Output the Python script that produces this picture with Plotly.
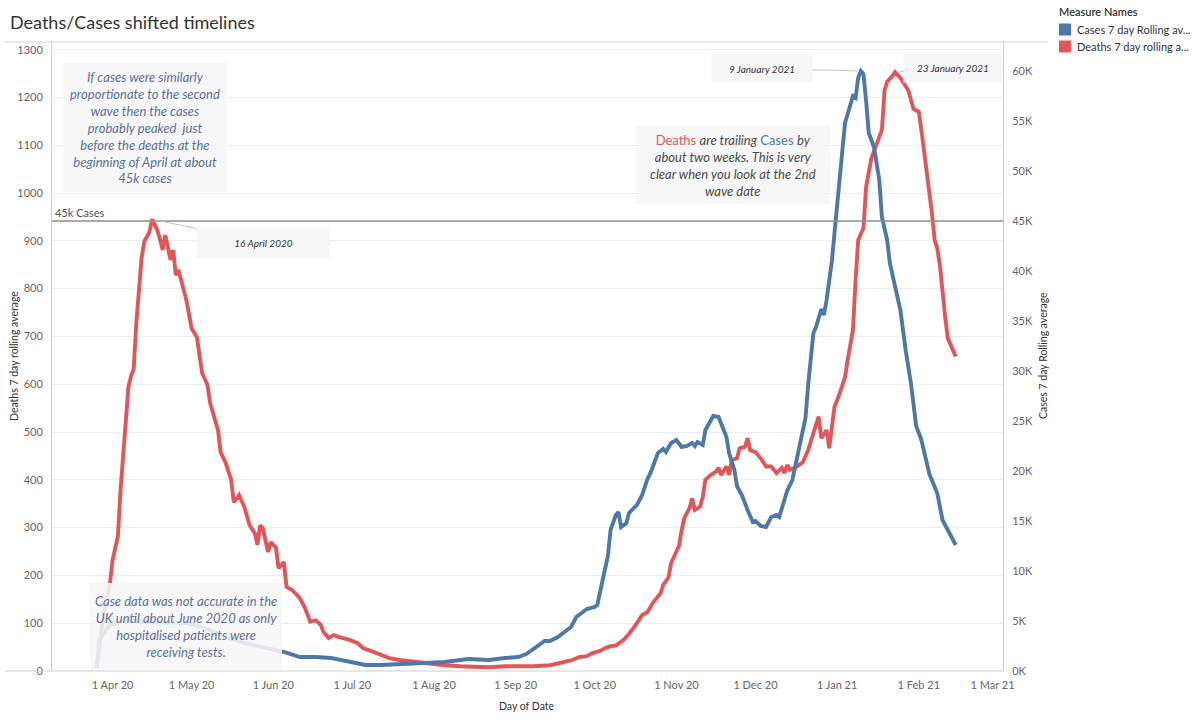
import plotly.graph_objects as go

# ---------------- data ----------------
death_dates = [
    "2020-03-26", "2020-03-28", "2020-03-31", "2020-04-01", "2020-04-02", "2020-04-03",
    "2020-04-04", "2020-04-05", "2020-04-06", "2020-04-07", "2020-04-08", "2020-04-09",
    "2020-04-10", "2020-04-11", "2020-04-12", "2020-04-13", "2020-04-14", "2020-04-15",
    "2020-04-16", "2020-04-17", "2020-04-18", "2020-04-19", "2020-04-20", "2020-04-21",
    "2020-04-22", "2020-04-23", "2020-04-24", "2020-04-25", "2020-04-26", "2020-04-28",
    "2020-04-29", "2020-05-01", "2020-05-03", "2020-05-05", "2020-05-07", "2020-05-08",
    "2020-05-11", "2020-05-12", "2020-05-14", "2020-05-16", "2020-05-17", "2020-05-19",
    "2020-05-21", "2020-05-23", "2020-05-25", "2020-05-26", "2020-05-27", "2020-05-28",
    "2020-05-30", "2020-05-31", "2020-06-02", "2020-06-03", "2020-06-05", "2020-06-06",
    "2020-06-08", "2020-06-11", "2020-06-13", "2020-06-15", "2020-06-17", "2020-06-19",
    "2020-06-20", "2020-06-22", "2020-06-24", "2020-06-26", "2020-06-30", "2020-07-03",
    "2020-07-05", "2020-07-09", "2020-07-12", "2020-07-15", "2020-07-19", "2020-07-25",
    "2020-07-30", "2020-08-05", "2020-08-11", "2020-08-22", "2020-08-28", "2020-09-03",
    "2020-09-08", "2020-09-14", "2020-09-18", "2020-09-22", "2020-09-25", "2020-09-28",
    "2020-09-30", "2020-10-03", "2020-10-05", "2020-10-07", "2020-10-09", "2020-10-12",
    "2020-10-14", "2020-10-16", "2020-10-19", "2020-10-21", "2020-10-23", "2020-10-26",
    "2020-10-27", "2020-10-29", "2020-10-30", "2020-11-01", "2020-11-02", "2020-11-03",
    "2020-11-04", "2020-11-06", "2020-11-07", "2020-11-08", "2020-11-10", "2020-11-11",
    "2020-11-12", "2020-11-14", "2020-11-16", "2020-11-17", "2020-11-18", "2020-11-20",
    "2020-11-21", "2020-11-22", "2020-11-24", "2020-11-25", "2020-11-27", "2020-11-28",
    "2020-11-29", "2020-12-01", "2020-12-03", "2020-12-05", "2020-12-07", "2020-12-09",
    "2020-12-11", "2020-12-12", "2020-12-13", "2020-12-14", "2020-12-16", "2020-12-19",
    "2020-12-21", "2020-12-23", "2020-12-25", "2020-12-26", "2020-12-28", "2020-12-29",
    "2020-12-31", "2021-01-02", "2021-01-04", "2021-01-05", "2021-01-06", "2021-01-07",
    "2021-01-08", "2021-01-09", "2021-01-11", "2021-01-12", "2021-01-14", "2021-01-16",
    "2021-01-18", "2021-01-19", "2021-01-20", "2021-01-22", "2021-01-23", "2021-01-25",
    "2021-01-26", "2021-01-28", "2021-01-30", "2021-02-01", "2021-02-02", "2021-02-04",
    "2021-02-06", "2021-02-07", "2021-02-08", "2021-02-09", "2021-02-10", "2021-02-11",
    "2021-02-12", "2021-02-14", "2021-02-15",
]
deaths = [
    6, 96, 184, 232, 257, 281,
    378, 450, 531, 594, 617, 632,
    728, 811, 864, 898, 909, 919,
    945, 933, 922, 903, 881, 912,
    884, 860, 881, 828, 839, 797,
    776, 717, 698, 623, 599, 561,
    504, 458, 434, 400, 353, 368,
    343, 305, 288, 264, 305, 299,
    249, 270, 258, 215, 228, 176,
    170, 153, 132, 103, 106, 97,
    82, 69, 75, 71, 65, 58,
    48, 40, 34, 27, 23, 19,
    17, 12, 10, 8, 10, 9,
    10, 12, 17, 22, 29, 31,
    37, 42, 48, 52, 53, 65,
    78, 92, 117, 123, 142, 163,
    180, 196, 226, 250, 262, 295,
    320, 341, 361, 337, 344, 364,
    400, 410, 417, 425, 410, 428,
    410, 441, 445, 466, 469, 487,
    462, 458, 445, 428, 428, 414,
    425, 414, 431, 421, 425, 437,
    462, 498, 532, 487, 504, 466,
    553, 581, 615, 651, 679, 713,
    818, 902, 927, 1013, 1073, 1103,
    1132, 1215, 1233, 1245, 1253, 1241,
    1233, 1215, 1176, 1170, 1131, 1048,
    957, 902, 884, 849, 783, 741,
    696, 672, 658,
]

case_dates = [
    "2020-03-26", "2020-03-27", "2020-03-31", "2020-04-06", "2020-04-12", "2020-04-21",
    "2020-04-29", "2020-05-06", "2020-05-14", "2020-05-21", "2020-05-29", "2020-06-05",
    "2020-06-11", "2020-06-17", "2020-06-23", "2020-06-30", "2020-07-06", "2020-07-12",
    "2020-07-19", "2020-07-24", "2020-07-30", "2020-08-05", "2020-08-14", "2020-08-22",
    "2020-08-28", "2020-09-02", "2020-09-05", "2020-09-08", "2020-09-12", "2020-09-14",
    "2020-09-17", "2020-09-19", "2020-09-22", "2020-09-24", "2020-09-26", "2020-09-28",
    "2020-10-01", "2020-10-02", "2020-10-04", "2020-10-06", "2020-10-07", "2020-10-09",
    "2020-10-10", "2020-10-11", "2020-10-13", "2020-10-14", "2020-10-17", "2020-10-19",
    "2020-10-21", "2020-10-22", "2020-10-24", "2020-10-25", "2020-10-27", "2020-10-28",
    "2020-10-30", "2020-11-01", "2020-11-03", "2020-11-05", "2020-11-07", "2020-11-08",
    "2020-11-09", "2020-11-11", "2020-11-12", "2020-11-14", "2020-11-15", "2020-11-17",
    "2020-11-18", "2020-11-20", "2020-11-21", "2020-11-23", "2020-11-24", "2020-11-26",
    "2020-11-28", "2020-11-30", "2020-12-01", "2020-12-03", "2020-12-05", "2020-12-07",
    "2020-12-09", "2020-12-10", "2020-12-12", "2020-12-13", "2020-12-15", "2020-12-16",
    "2020-12-18", "2020-12-19", "2020-12-20", "2020-12-21", "2020-12-22", "2020-12-23",
    "2020-12-24", "2020-12-26", "2020-12-27", "2020-12-28", "2020-12-30", "2021-01-01",
    "2021-01-03", "2021-01-04", "2021-01-05", "2021-01-06", "2021-01-07", "2021-01-08",
    "2021-01-09", "2021-01-10", "2021-01-11", "2021-01-12", "2021-01-13", "2021-01-15",
    "2021-01-17", "2021-01-18", "2021-01-20", "2021-01-21", "2021-01-23", "2021-01-25",
    "2021-01-27", "2021-01-29", "2021-01-31", "2021-02-02", "2021-02-05", "2021-02-08",
    "2021-02-10", "2021-02-12", "2021-02-15",
]
cases_k = [
    0.3, 3.1, 4.6, 5.1, 4.9, 4.8,
    4.8, 4.3, 3.4, 2.8, 2.3, 1.9,
    1.4, 1.4, 1.3, 0.9, 0.6, 0.6,
    0.7, 0.7, 0.8, 0.9, 1.2, 1.1,
    1.3, 1.4, 1.7, 2.3, 3.0, 3.0,
    3.4, 3.8, 4.4, 5.4, 5.8, 6.2,
    6.4, 6.6, 9.1, 11.5, 14.1, 15.6,
    15.9, 14.4, 14.8, 15.8, 16.6, 17.6,
    19.2, 19.7, 21.1, 21.8, 22.2, 21.9,
    22.8, 23.1, 22.4, 22.5, 22.8, 22.5,
    22.9, 22.6, 24.1, 25.0, 25.5, 25.4,
    24.8, 23.4, 21.8, 20.1, 18.5, 17.5,
    16.1, 14.9, 15.0, 14.5, 14.4, 15.4,
    15.6, 15.4, 17.1, 18.0, 19.1, 20.4,
    23.1, 24.3, 25.3, 28.6, 31.0, 33.8,
    34.4, 36.2, 35.6, 37.1, 41.0, 46.1,
    52.1, 54.8, 55.8, 56.7, 57.5, 57.3,
    59.3, 60.0, 59.7, 57.0, 53.8, 52.4,
    49.1, 45.4, 43.1, 40.8, 38.4, 36.1,
    32.1, 28.8, 24.5, 23.1, 19.7, 17.8,
    15.1, 14.1, 12.6,
]

x_tick_dates = ["2020-04-01", "2020-05-01", "2020-06-01", "2020-07-01", "2020-08-01",
                "2020-09-01", "2020-10-01", "2020-11-01", "2020-12-01", "2021-01-01",
                "2021-02-01", "2021-03-01"]
x_tick_labels = ["1 Apr 20", "1 May 20", "1 Jun 20", "1 Jul 20", "1 Aug 20", "1 Sep 20",
                 "1 Oct 20", "1 Nov 20", "1 Dec 20", "1 Jan 21", "1 Feb 21", "1 Mar 21"]

ref_cases_k = 45
series_names = ["Cases 7 day Rolling av...", "Deaths 7 day rolling a..."]

# ---------------- styling ----------------
BLUE = "#4e79a7"
RED = "#e15759"
FONT = "Lato"
NOTE_BLUE = "#5b7096"
BOX_FILL = "rgba(246,246,246,0.88)"

W, H = 1200, 722
L, R, T, B = 52, 1003, 42, 671
PW, PH = R - L, B - T


def px(x):
    return (x - L) / PW


def py(y):
    return (B - y) / PH


fig = go.Figure()
fig.add_trace(go.Scatter(x=case_dates, y=cases_k, yaxis="y2", mode="lines",
                         line=dict(color=BLUE, width=3.9), name=series_names[0],
                         showlegend=False))
fig.add_trace(go.Scatter(x=death_dates, y=deaths, yaxis="y", mode="lines",
                         line=dict(color=RED, width=3.9), name=series_names[1],
                         showlegend=False))

shapes = []
annotations = []

# title box line and extended axis line
shapes.append(dict(type="line", xref="paper", yref="paper", x0=px(5), x1=px(1048),
                   y0=py(42), y1=py(42), line=dict(color="#d6d6d6", width=1)))
shapes.append(dict(type="line", xref="paper", yref="paper", x0=px(5), x1=1,
                   y0=0, y1=0, line=dict(color="#cfcfcf", width=1)))

# 45k reference line
shapes.append(dict(type="line", xref="paper", yref="y2", x0=0, x1=1,
                   y0=ref_cases_k, y1=ref_cases_k, line=dict(color="#8e8e8e", width=1.6)))
annotations.append(dict(xref="paper", yref="y2", x=px(53), y=ref_cases_k, text="45k Cases",
                        showarrow=False, xanchor="left", yanchor="middle", yshift=9,
                        font=dict(family=FONT, size=11, color="#555555")))


def ital(s):
    return "<br>".join("<i>%s</i>" % part for part in s.split("<br>"))


# big note boxes (shape + text)
boxes = [
    (63, 63, 227, 192,
     ital("If cases were similarly<br>proportionate to the second<br>wave then the cases<br>"
          "probably peaked  just<br>before the deaths at the<br>beginning of April at about<br>45k cases"),
     NOTE_BLUE),
    (636, 126, 830, 204,
     "<span style='color:%s'>Deaths</span> <i>are trailing</i> <span style='color:%s'>Cases</span>"
     " <i>by</i><br><i>about two weeks. This is very</i><br><i>clear when you look at the 2nd</i>"
     "<br><i>wave date</i>" % (RED, BLUE),
     "#4a4a4a"),
    (90, 583, 282, 670,
     ital("Case data was not accurate in the<br>UK until about June 2020 as only<br>"
          "hospitalised patients were<br>receiving tests."),
     NOTE_BLUE),
]
for x0, y0, x1, y1, txt, col in boxes:
    shapes.append(dict(type="rect", xref="paper", yref="paper", x0=px(x0), x1=px(x1),
                       y0=py(y1), y1=py(y0), fillcolor=BOX_FILL, line=dict(width=0),
                       layer="above"))
    annotations.append(dict(xref="paper", yref="paper", x=px((x0 + x1) / 2),
                            y=py((y0 + y1) / 2), text=txt, showarrow=False,
                            xanchor="center", yanchor="middle", align="center",
                            font=dict(family=FONT, size=13, color=col)))

# peak call-outs anchored on the data
first_wave = [i for i, d in enumerate(death_dates) if d < "2020-07-01"]
i_d1 = max(first_wave, key=lambda i: deaths[i])
i_d2 = max(range(len(deaths)), key=lambda i: deaths[i])
i_c2 = max(range(len(cases_k)), key=lambda i: cases_k[i])

callouts = [
    (death_dates[i_d1], deaths[i_d1], "y", "16 April 2020", 111.5, 23, 133, 29),
    (case_dates[i_c2], cases_k[i_c2], "y2", "9 January 2021", -99, -2.5, 100, 27),
    (death_dates[i_d2], deaths[i_d2], "y", "23 January 2021", 58, -4.5, 98, 29),
]
for xd, yv, yr, txt, ax, ay, bw, bh in callouts:
    annotations.append(dict(xref="x", yref=yr, x=xd, y=yv, text="<i>" + txt + "</i>",
                            showarrow=True, arrowhead=0, arrowwidth=1, arrowcolor="#c4c4c4",
                            ax=ax, ay=ay, standoff=3, width=bw, height=bh,
                            bgcolor=BOX_FILL, borderpad=0,
                            font=dict(family=FONT, size=10, color="#333333")))

# title
annotations.append(dict(xref="paper", yref="paper", x=px(8), y=py(22), xanchor="left",
                        yanchor="middle", text="Deaths/Cases shifted timelines", showarrow=False,
                        font=dict(family=FONT, size=18, color="#333333")))

# axis titles
annotations.append(dict(xref="paper", yref="paper", x=px(14), y=py(356), textangle=-90,
                        xanchor="center", yanchor="middle",
                        text="Deaths 7 day rolling average", showarrow=False,
                        font=dict(family=FONT, size=10.5, color="#333333")))
annotations.append(dict(xref="paper", yref="paper", x=px(1043), y=py(356), textangle=-90,
                        xanchor="center", yanchor="middle",
                        text="Cases 7 day Rolling average", showarrow=False,
                        font=dict(family=FONT, size=10.5, color="#333333")))
annotations.append(dict(xref="paper", yref="paper", x=px(527), y=py(706),
                        xanchor="center", yanchor="middle",
                        text="Day of Date", showarrow=False,
                        font=dict(family=FONT, size=10.5, color="#333333")))

# manual legend
annotations.append(dict(xref="paper", yref="paper", x=px(1057), y=py(12), xanchor="left",
                        yanchor="middle", text="Measure Names", showarrow=False,
                        font=dict(family=FONT, size=11, color="#333333", weight=600)))
for k, (col, name) in enumerate(zip([BLUE, RED], series_names)):
    yc = 29.5 + 17 * k
    shapes.append(dict(type="rect", xref="paper", yref="paper", x0=px(1059), x1=px(1071),
                       y0=py(yc + 6), y1=py(yc - 6), fillcolor=col, line=dict(width=0)))
    annotations.append(dict(xref="paper", yref="paper", x=px(1075), y=py(yc), xanchor="left",
                            yanchor="middle", text=name, showarrow=False,
                            font=dict(family=FONT, size=11, color="#333333")))

fig.update_layout(
    width=W, height=H,
    margin=dict(l=L, r=W - R, t=T, b=H - B, pad=0),
    paper_bgcolor="white", plot_bgcolor="white",
    font=dict(family=FONT, size=11, color="#666666"),
    showlegend=False,
    shapes=shapes, annotations=annotations,
    xaxis=dict(type="date", range=["2020-03-09", "2021-03-04 23:00"],
               tickvals=x_tick_dates, ticktext=x_tick_labels, showgrid=False,
               zeroline=False, showline=False, ticks="", ticklabelstandoff=6,
               tickfont=dict(family=FONT, size=11, color="#666666")),
    yaxis=dict(range=[0, 1316], tick0=0, dtick=100, showgrid=True, gridcolor="#ededed",
               gridwidth=1, zeroline=False, showline=True, linecolor="#cccccc",
               ticks="", ticklabelstandoff=6,
               tickfont=dict(family=FONT, size=11, color="#666666")),
    yaxis2=dict(range=[0, 62.9], tick0=0, dtick=5, ticksuffix="K", overlaying="y",
                side="right", showgrid=False, zeroline=False, showline=True,
                linecolor="#cccccc", ticks="", ticklabelstandoff=6,
                tickfont=dict(family=FONT, size=11, color="#666666")),
)

fig.write_html("out.html", config={"displayModeBar": False},
               post_script="document.body.style.margin='0';document.body.style.overflow='hidden';")
